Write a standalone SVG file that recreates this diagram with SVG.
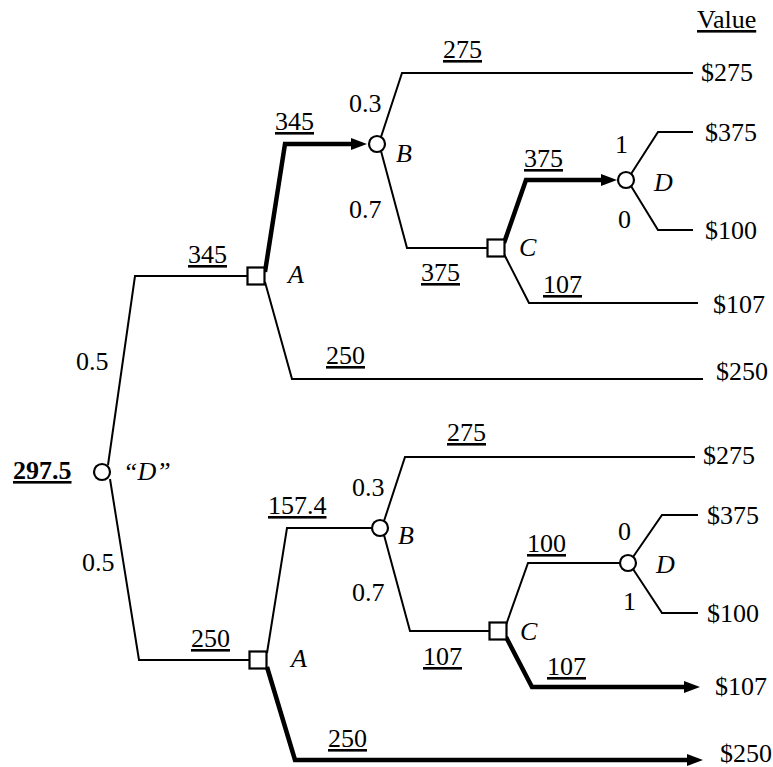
<svg xmlns="http://www.w3.org/2000/svg" width="773" height="767" viewBox="0 0 773 767">
<style>
.u{text-decoration:underline}
.i{font-style:italic}
.b{font-weight:bold}
.e{fill:none;stroke:#000;stroke-width:2;stroke-linejoin:miter}
.t{fill:none;stroke:#000;stroke-width:4.5;stroke-linejoin:miter}
.ch{fill:#fff;stroke:#000;stroke-width:2.2}
.dc{fill:#fff;stroke:#000;stroke-width:2.2}
</style>
<defs>
<marker id="arr" markerUnits="userSpaceOnUse" markerWidth="16" markerHeight="12" refX="2" refY="6" orient="auto">
<path d="M0,0 L16,6 L0,12 z" fill="#000"/>
</marker>
</defs>
<rect width="773" height="767" fill="#fff"/>
<g id="connectors">
<path class="e" d="M108,465 L135,276 L248,276"/>
<path class="e" d="M110,479 L139,660 L250,660"/>
<path class="t" d="M265,272 L285,144 L353,144" marker-end="url(#arr)"/>
<path class="e" d="M265,282 L292,379 L703,379"/>
<path class="e" d="M381,137 L402,73 L693,73"/>
<path class="e" d="M381,151 L407,248 L488,248"/>
<path class="t" d="M504,243 L526,180 L603,180" marker-end="url(#arr)"/>
<path class="e" d="M504,254 L529,303 L698,303"/>
<path class="e" d="M631,174 L658,132 L693,132"/>
<path class="e" d="M631,186 L658,230 L693,230"/>
<path class="e" d="M267,653 L287,528 L372,528"/>
<path class="t" d="M267,667 L295,760 L689,760" marker-end="url(#arr)"/>
<path class="e" d="M384,521 L405,457 L695,457"/>
<path class="e" d="M384,535 L410,631 L489,631"/>
<path class="e" d="M506,625 L528,563 L620,563"/>
<path class="t" d="M506,637 L532,687 L686,687" marker-end="url(#arr)"/>
<path class="e" d="M633,557 L662,515 L698,515"/>
<path class="e" d="M633,569 L662,613 L698,613"/>
</g>
<g font-family="'Liberation Serif', 'Times New Roman', Times, 'DejaVu Serif', serif" font-size="26" fill="#000">
<g id="node-root">
<circle class="ch" cx="102" cy="472" r="8"/>
<text class="b u" x="13" y="479">297.5</text>
<text class="i" x="123" y="480">“D”</text>
</g>
<g id="node-A1">
<rect class="dc" x="247.5" y="267.5" width="17" height="17"/>
<text class="i" x="288" y="283">A</text>
</g>
<g id="node-B1">
<circle class="ch" cx="377" cy="144" r="8"/>
<text class="i" x="396" y="162">B</text>
</g>
<g id="node-C1">
<rect class="dc" x="487.5" y="239.5" width="17" height="17"/>
<text class="i" x="519" y="256">C</text>
</g>
<g id="node-D1">
<circle class="ch" cx="626" cy="180" r="8"/>
<text class="i" x="654" y="191">D</text>
</g>
<g id="node-A2">
<rect class="dc" x="249.5" y="651.5" width="17" height="17"/>
<text class="i" x="291" y="667">A</text>
</g>
<g id="node-B2">
<circle class="ch" cx="380" cy="528" r="8"/>
<text class="i" x="398" y="544">B</text>
</g>
<g id="node-C2">
<rect class="dc" x="489.5" y="622.5" width="17" height="17"/>
<text class="i" x="520" y="640">C</text>
</g>
<g id="node-D2">
<circle class="ch" cx="628" cy="563" r="8"/>
<text class="i" x="656" y="573">D</text>
</g>
<g id="values">
<text class="u" x="697" y="28">Value</text>
<text x="701" y="81">$275</text>
<text x="705" y="141">$375</text>
<text x="705" y="239">$100</text>
<text x="713" y="313">$107</text>
<text x="716" y="380">$250</text>
<text x="703" y="464">$275</text>
<text x="707" y="524">$375</text>
<text x="707" y="622">$100</text>
<text x="715" y="695">$107</text>
<text x="720" y="762">$250</text>
</g>
<g id="edge-labels">
<text class="u" x="443" y="58">275</text>
<text class="u" x="275" y="130">345</text>
<text class="u" x="524" y="167">375</text>
<text class="u" x="188" y="263">345</text>
<text class="u" x="421" y="281">375</text>
<text class="u" x="543" y="293">107</text>
<text class="u" x="326" y="364">250</text>
<text class="u" x="447" y="441">275</text>
<text class="u" x="268" y="514">157.4</text>
<text class="u" x="527" y="552">100</text>
<text class="u" x="191" y="647">250</text>
<text class="u" x="423" y="665">107</text>
<text class="u" x="547" y="675">107</text>
<text class="u" x="328" y="747">250</text>
<text x="349" y="112">0.3</text>
<text x="349" y="218">0.7</text>
<text x="76" y="370">0.5</text>
<text x="615" y="153">1</text>
<text x="618" y="228">0</text>
<text x="82" y="571">0.5</text>
<text x="352" y="496">0.3</text>
<text x="352" y="601">0.7</text>
<text x="618" y="540">0</text>
<text x="623" y="610">1</text>
</g>
</g>
</svg>
